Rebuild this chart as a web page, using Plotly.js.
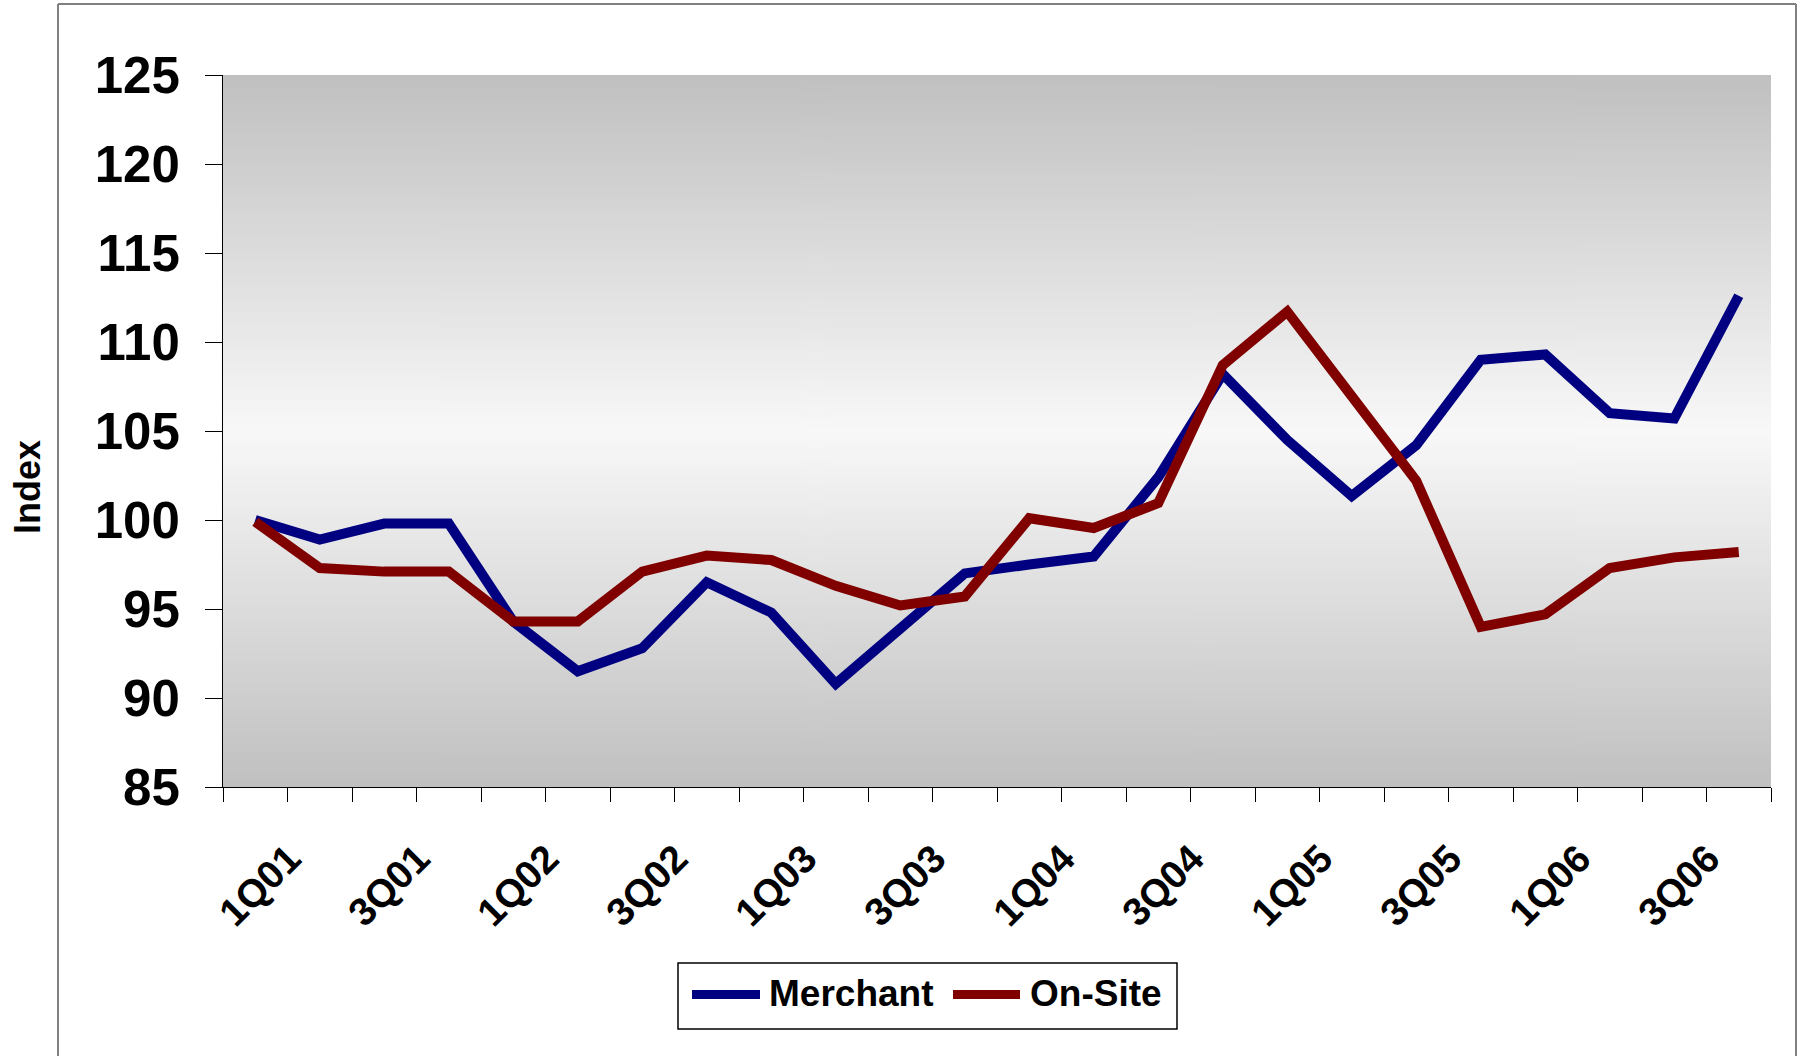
<!DOCTYPE html>
<html>
<head>
<meta charset="utf-8">
<script src="https://cdn.plot.ly/plotly-3.0.1.min.js"></script>
<style>
  html, body { margin: 0; padding: 0; background: #ffffff; }
  #chart { width: 1803px; height: 1056px; }
</style>
</head>
<body>
<div id="chart"></div>
<script>
// ---- Data ----
const quarters = [
  "1Q01","2Q01","3Q01","4Q01",
  "1Q02","2Q02","3Q02","4Q02",
  "1Q03","2Q03","3Q03","4Q03",
  "1Q04","2Q04","3Q04","4Q04",
  "1Q05","2Q05","3Q05","4Q05",
  "1Q06","2Q06","3Q06","4Q06"
];
const merchant = [
  100.0, 98.9, 99.8, 99.8,
  94.3, 91.5, 92.8, 96.5,
  94.8, 90.8, 93.9, 97.0,
  97.5, 97.95, 102.4, 108.2,
  104.5, 101.35, 104.2, 109.0,
  109.3, 106.0, 105.7, 112.6
];
const onSite = [
  99.9, 97.3, 97.1, 97.1,
  94.3, 94.3, 97.1, 98.0,
  97.75, 96.3, 95.2, 95.7,
  100.1, 99.55, 100.95, 108.7,
  111.7, 107.0, 102.2, 94.0,
  94.7, 97.3, 97.9, 98.2
];
const seriesNames = ["Merchant", "On-Site"];
const seriesColors = ["#000080", "#800000"];
const yTicks = [85, 90, 95, 100, 105, 110, 115, 120, 125];
const xTickText = quarters.map((q, i) => (i % 2 === 0 ? q : ""));
const yAxisTitle = "Index";

// ---- Geometry helpers (plot area in px) ----
const W = 1803, H = 1056;
const PL = 223, PR = 1771, PT = 75, PB = 787;
const px = x => (x - PL) / (PR - PL);
const py = y => (PB - y) / (PB - PT);

// gradient background image for the plot area
function gradientURL() {
  const c = document.createElement("canvas");
  c.width = 4; c.height = 512;
  const ctx = c.getContext("2d");
  const g = ctx.createLinearGradient(0, 0, 0, 512);
  g.addColorStop(0, "#c0c0c0");
  g.addColorStop(0.5, "#f8f8f8");
  g.addColorStop(1, "#c0c0c0");
  ctx.fillStyle = g;
  ctx.fillRect(0, 0, 4, 512);
  return c.toDataURL("image/png");
}

const FONT = "Arial, 'Liberation Sans', sans-serif";

const traces = [
  { x: quarters, y: merchant, name: seriesNames[0], type: "scatter", mode: "lines",
    line: { color: seriesColors[0], width: 10 }, showlegend: false, cliponaxis: false },
  { x: quarters, y: onSite, name: seriesNames[1], type: "scatter", mode: "lines",
    line: { color: seriesColors[1], width: 10 }, showlegend: false, cliponaxis: false }
];

const legendShapes = [
  { type: "rect", xref: "paper", yref: "paper",
    x0: px(678), x1: px(1177), y0: py(1029), y1: py(963),
    line: { color: "#000000", width: 1.5 }, fillcolor: "#ffffff" },
  { type: "line", xref: "paper", yref: "paper",
    x0: px(692), x1: px(760), y0: py(994.5), y1: py(994.5),
    line: { color: seriesColors[0], width: 9 } },
  { type: "line", xref: "paper", yref: "paper",
    x0: px(953), x1: px(1020), y0: py(994.5), y1: py(994.5),
    line: { color: seriesColors[1], width: 9 } }
];

const borderShapes = [
  { type: "line", xref: "paper", yref: "paper", x0: px(58), x1: px(58), y0: py(4), y1: py(1100),
    line: { color: "#808080", width: 2 } },
  { type: "line", xref: "paper", yref: "paper", x0: px(58), x1: px(1796), y0: py(4), y1: py(4),
    line: { color: "#808080", width: 2 } },
  { type: "line", xref: "paper", yref: "paper", x0: px(1796), x1: px(1796), y0: py(4), y1: py(1100),
    line: { color: "#808080", width: 2 } }
];

const layout = {
  width: W, height: H,
  margin: { l: PL, r: W - PR, t: PT, b: H - PB, pad: 0 },
  paper_bgcolor: "#ffffff",
  plot_bgcolor: "rgba(0,0,0,0)",
  showlegend: false,
  font: { family: FONT, color: "#000000" },
  images: [{
    source: gradientURL(), xref: "paper", yref: "paper",
    x: 0, y: 1, sizex: 1, sizey: 1, sizing: "stretch",
    xanchor: "left", yanchor: "top", layer: "below"
  }],
  xaxis: {
    type: "category",
    range: [-0.5, quarters.length - 0.5],
    tickmode: "array", tickvals: quarters, ticktext: xTickText,
    tickson: "boundaries",
    ticks: "outside", ticklen: 14, tickwidth: 1, tickcolor: "#000000",
    tickangle: -45,
    ticklabelshift: 34,
    ticklabelstandoff: 32,
    tickfont: { family: FONT, size: 39, weight: "bold", color: "#000000" },
    showline: true, linecolor: "#000000", linewidth: 1,
    showgrid: false, zeroline: false, fixedrange: true
  },
  yaxis: {
    range: [85, 125],
    tickmode: "array", tickvals: yTicks, ticktext: yTicks.map(String),
    ticks: "outside", ticklen: 17, tickwidth: 1, tickcolor: "#000000",
    ticklabelstandoff: 15,
    tickfont: { family: FONT, size: 51, weight: "bold", color: "#000000" },
    showline: true, linecolor: "#000000", linewidth: 1,
    showgrid: false, zeroline: false, fixedrange: true
  },
  shapes: borderShapes.concat(legendShapes),
  annotations: [
    { text: yAxisTitle, xref: "paper", yref: "paper", x: px(27), y: py(487),
      xanchor: "center", yanchor: "middle", textangle: -90, showarrow: false,
      font: { family: FONT, size: 36, weight: "bold", color: "#000000" } },
    { text: seriesNames[0], xref: "paper", yref: "paper", x: px(767), y: py(994),
      xanchor: "left", yanchor: "middle", showarrow: false,
      font: { family: FONT, size: 37, weight: "bold", color: "#000000" } },
    { text: seriesNames[1], xref: "paper", yref: "paper", x: px(1028), y: py(994),
      xanchor: "left", yanchor: "middle", showarrow: false,
      font: { family: FONT, size: 37, weight: "bold", color: "#000000" } }
  ]
};

Plotly.newPlot("chart", traces, layout, { displayModeBar: false, staticPlot: true });
</script>
</body>
</html>
